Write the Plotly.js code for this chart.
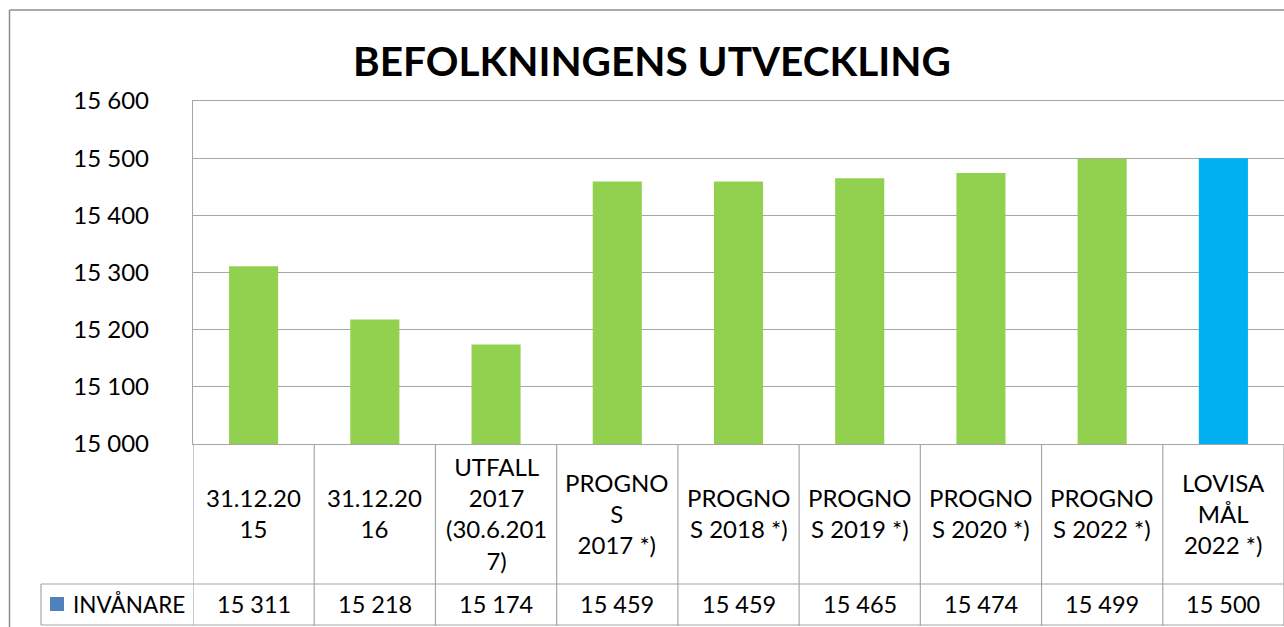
<!DOCTYPE html>
<html>
<head>
<meta charset="utf-8">
<script src="https://cdn.plot.ly/plotly-3.0.1.min.js"></script>
<style>
  html, body { margin: 0; padding: 0; background: #fff; }
  #chart { width: 1284px; height: 627px; }
</style>
</head>
<body>
<div id="chart"></div>
<script>
// ---- data ----
const categories = [
  "31.12.20<br>15",
  "31.12.20<br>16",
  "UTFALL<br>2017<br>(30.6.201<br>7)",
  "PROGNO<br>S<br>2017 *)",
  "PROGNO<br>S 2018 *)",
  "PROGNO<br>S 2019 *)",
  "PROGNO<br>S 2020 *)",
  "PROGNO<br>S 2022 *)",
  "LOVISA<br>MÅL<br>2022 *)"
];
const invanare = [15311, 15218, 15174, 15459, 15459, 15465, 15474, 15499, 15500];
const seriesName = "INVÅNARE";
const yTicks = [15000, 15100, 15200, 15300, 15400, 15500, 15600];
const chartTitle = "BEFOLKNINGENS UTVECKLING";

// ---- style ----
const FONT = "Lato, 'Open Sans', sans-serif";
const GREEN = "#92d050", BLUE = "#00b0f0", LEGEND_BLUE = "#4f81bd";
const GRID = "#a6a6a6";
const W = 1284, H = 627;
const L = 193, T = 101, B = 183, R = 0;
const plotW = W - L - R, plotH = H - T - B;
const px = x => (x - L) / plotW;
const py = y => (H - B - y) / plotH;

const fmt = v => String(v).replace(/\B(?=(\d{3})+(?!\d))/g, " ");
const xs = categories.map((c, i) => i);
const barColors = invanare.map((v, i) => i === invanare.length - 1 ? BLUE : GREEN);

const trace = {
  type: "bar",
  x: xs,
  y: invanare,
  base: 0,
  marker: { color: barColors, line: { width: 0 } },
  width: 0.405,
  hoverinfo: "y"
};

const shapes = [];
const lineStyle = { color: GRID, width: 1.2 };
for (let i = 0; i <= categories.length; i++) {
  shapes.push({ type: "line", xref: "x", yref: "paper", x0: i - 0.5, x1: i - 0.5,
    y0: py(626), y1: 0, line: lineStyle, layer: "above" });
}
[584, 625].forEach(y => shapes.push({ type: "line", xref: "paper", yref: "paper",
  x0: px(41), x1: 1.01, y0: py(y), y1: py(y), line: lineStyle }));
shapes.push({ type: "line", xref: "paper", yref: "paper", x0: px(41), x1: px(41),
  y0: py(584), y1: py(625), line: lineStyle });
shapes.push({ type: "rect", xref: "paper", yref: "paper", x0: px(50), x1: px(64),
  y0: py(611), y1: py(597), fillcolor: LEGEND_BLUE, line: { width: 0 } });
shapes.push({ type: "line", xref: "paper", yref: "paper", x0: px(9.5), x1: px(9.5),
  y0: py(640), y1: py(10), line: { color: "#8c8c8c", width: 1.5 } });
shapes.push({ type: "line", xref: "paper", yref: "paper", x0: px(9.5), x1: 1.05,
  y0: py(10), y1: py(10), line: { color: "#8c8c8c", width: 1.5 } });

const annotations = [];
categories.forEach((c, i) => {
  annotations.push({ xref: "x", yref: "paper", x: i, y: py(513), text: c,
    showarrow: false, xanchor: "center", yanchor: "middle", align: "center",
    font: { family: FONT, size: 24, color: "#000" } });
  annotations.push({ xref: "x", yref: "paper", x: i, y: py(604), text: fmt(invanare[i]),
    showarrow: false, xanchor: "center", yanchor: "middle",
    font: { family: FONT, size: 23.5, color: "#000" } });
});
annotations.push({ xref: "paper", yref: "paper", x: px(71), y: py(604), text: seriesName,
  showarrow: false, xanchor: "left", yanchor: "middle",
  font: { family: FONT, size: 22.5, color: "#000" } });

const layout = {
  width: W, height: H,
  margin: { l: L, r: R, t: T, b: B, pad: 0 },
  paper_bgcolor: "#fff", plot_bgcolor: "#fff",
  separators: ", ",
  showlegend: false,
  title: { text: "<b>" + chartTitle + "</b>", x: 652 / W, xref: "container",
    xanchor: "center", y: 1 - 62 / H, yref: "container", yanchor: "middle",
    font: { family: FONT, size: 40.5, color: "#000" } },
  xaxis: {
    range: [-0.5, categories.length - 0.5],
    showticklabels: false, ticks: "", showgrid: false, zeroline: false,
    showline: true, linecolor: GRID, linewidth: 1.2, mirror: true, fixedrange: true
  },
  yaxis: {
    range: [15000, 15600], tickvals: yTicks, tickformat: ",d",
    showgrid: true, gridcolor: GRID, gridwidth: 1.2, zeroline: false,
    showline: true, linecolor: GRID, linewidth: 1.2, mirror: true,
    ticks: "", ticklabelstandoff: 38,
    tickfont: { family: FONT, size: 24, color: "#000" }, fixedrange: true
  },
  shapes: shapes,
  annotations: annotations
};

Plotly.newPlot("chart", [trace], layout, { displayModeBar: false, staticPlot: true });
</script>
</body>
</html>
